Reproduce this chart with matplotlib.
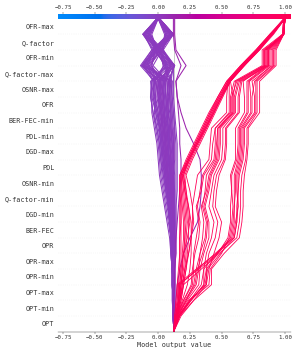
import numpy as np
import matplotlib
matplotlib.use("Agg")
import matplotlib.pyplot as plt
from matplotlib.colors import LinearSegmentedColormap, Normalize

# ---------------- data ----------------
# features from bottom (y=0.5) to top (y=19.5)
feature_names = ["OPT", "OPT-min", "OPT-max", "OPR-min", "OPR-max", "OPR",
                 "BER-FEC", "DGD-min", "Q-factor-min", "OSNR-min", "PDL",
                 "DGD-max", "PDL-min", "BER-FEC-min", "OFR", "OSNR-max",
                 "Q-factor-max", "OFR-min", "Q-factor", "OFR-max"]
base_value = 0.122
x_limits = (-0.79, 1.045)
x_ticks = [-0.75, -0.50, -0.25, 0.00, 0.25, 0.50, 0.75, 1.00]

# cumulative model output after each feature (bottom -> top), low-output observations
paths_low = [
    [0.12,0.12,0.11,0.11,0.10,0.09,0.07,0.05,0.03,0.01,0.00,-0.01,-0.03,-0.05,-0.05,-0.04,0.10,0.01,-0.11,0.00],
    [0.12,0.12,0.12,0.12,0.11,0.10,0.09,0.08,0.07,0.06,0.05,0.04,0.03,0.02,0.01,0.02,-0.13,-0.03,0.10,0.00],
    [0.13,0.13,0.13,0.13,0.14,0.14,0.14,0.14,0.15,0.15,0.15,0.15,0.14,0.13,0.12,0.12,0.12,0.03,-0.10,-0.01],
    [0.12,0.12,0.12,0.12,0.12,0.12,0.11,0.11,0.10,0.09,0.09,0.08,0.07,0.06,0.05,0.06,-0.10,-0.01,0.12,0.01],
    [0.12,0.12,0.12,0.11,0.11,0.10,0.09,0.07,0.05,0.03,0.02,0.01,-0.01,-0.03,-0.02,-0.01,0.13,0.02,0.11,0.00],
    [0.12,0.12,0.12,0.12,0.12,0.12,0.12,0.12,0.12,0.11,0.11,0.11,0.10,0.09,0.08,0.09,-0.12,-0.04,-0.12,-0.01],
    [0.12,0.12,0.12,0.12,0.12,0.11,0.10,0.10,0.09,0.08,0.06,0.05,0.04,0.03,0.02,0.03,0.08,0.00,-0.09,0.00],
    [0.13,0.13,0.13,0.13,0.13,0.13,0.13,0.13,0.13,0.12,0.12,0.11,0.10,0.08,0.07,0.07,-0.08,0.02,0.08,0.00],
    [0.12,0.11,0.11,0.11,0.10,0.10,0.09,0.08,0.06,0.05,0.04,0.02,0.00,-0.02,-0.04,-0.03,-0.14,-0.05,-0.11,-0.01],
    [0.12,0.12,0.12,0.12,0.12,0.12,0.12,0.12,0.11,0.11,0.10,0.10,0.09,0.08,0.07,0.08,0.13,0.04,0.12,0.01],
    [0.12,0.12,0.12,0.12,0.12,0.11,0.11,0.10,0.09,0.07,0.06,0.06,0.05,0.04,0.03,0.04,-0.06,0.01,0.06,0.00],
    [0.12,0.12,0.12,0.12,0.13,0.13,0.13,0.12,0.12,0.12,0.12,0.12,0.12,0.11,0.10,0.11,0.05,-0.02,-0.06,0.00],
    [0.12,0.12,0.11,0.11,0.11,0.10,0.10,0.09,0.08,0.06,0.04,0.03,0.02,0.01,-0.01,0.00,0.11,0.03,0.09,0.01],
    [0.12,0.12,0.12,0.12,0.12,0.12,0.11,0.10,0.08,0.07,0.07,0.06,0.05,0.05,0.04,0.05,-0.12,-0.02,-0.08,-0.01],
    [0.13,0.13,0.13,0.13,0.13,0.13,0.12,0.12,0.11,0.10,0.08,0.07,0.05,0.04,0.03,0.01,0.09,-0.01,0.12,0.01],
    [0.12,0.12,0.12,0.12,0.12,0.12,0.12,0.11,0.11,0.10,0.10,0.09,0.09,0.08,0.08,0.07,-0.04,0.03,-0.12,0.00],
    [0.12,0.12,0.12,0.11,0.11,0.10,0.09,0.08,0.07,0.05,0.03,0.02,0.01,0.00,-0.02,-0.03,0.06,-0.03,0.07,0.00],
    [0.12,0.12,0.12,0.12,0.12,0.12,0.12,0.12,0.12,0.12,0.13,0.13,0.13,0.12,0.11,0.10,-0.11,0.00,0.10,0.01],
    [0.12,0.12,0.12,0.12,0.12,0.11,0.11,0.10,0.10,0.09,0.08,0.08,0.07,0.07,0.06,0.05,0.12,0.02,-0.07,-0.01],
    [0.12,0.12,0.12,0.12,0.11,0.11,0.10,0.09,0.08,0.07,0.06,0.04,0.03,0.01,0.00,-0.02,-0.09,-0.04,0.11,0.00],
    [0.13,0.13,0.13,0.13,0.13,0.13,0.13,0.13,0.13,0.13,0.12,0.12,0.11,0.11,0.10,0.10,0.04,0.01,-0.12,-0.01],
    [0.12,0.12,0.12,0.12,0.12,0.12,0.11,0.11,0.10,0.10,0.09,0.07,0.06,0.05,0.04,0.04,0.10,0.04,0.05,0.00],
    [0.12,0.12,0.12,0.11,0.11,0.11,0.10,0.09,0.08,0.07,0.05,0.04,0.02,0.00,-0.03,-0.02,-0.05,-0.02,-0.10,0.00],
    [0.12,0.12,0.12,0.12,0.12,0.12,0.12,0.12,0.11,0.10,0.10,0.09,0.08,0.07,0.06,0.06,0.07,-0.04,0.09,0.01],
    [0.12,0.12,0.12,0.12,0.12,0.11,0.10,0.09,0.09,0.08,0.07,0.06,0.05,0.03,0.01,0.00,-0.13,-0.01,-0.05,0.00],
    [0.12,0.12,0.12,0.12,0.12,0.12,0.12,0.12,0.12,0.12,0.11,0.10,0.10,0.10,0.09,0.09,0.12,0.00,0.12,0.00],
    [0.12,0.12,0.11,0.11,0.10,0.10,0.09,0.08,0.06,0.04,0.02,0.01,-0.01,-0.04,-0.06,-0.05,0.05,0.02,-0.09,-0.01],
    [0.12,0.12,0.12,0.12,0.12,0.12,0.11,0.11,0.10,0.09,0.08,0.08,0.07,0.05,0.04,0.03,-0.07,0.03,0.10,0.01],
    [0.12,0.12,0.12,0.11,0.11,0.10,0.08,0.06,0.04,0.02,0.01,0.00,-0.02,-0.04,-0.06,-0.05,0.08,-0.03,-0.12,-0.01],
    [0.12,0.12,0.12,0.12,0.12,0.11,0.10,0.09,0.07,0.05,0.04,0.03,0.02,-0.01,-0.04,-0.03,-0.11,-0.04,0.09,0.00],
    [0.13,0.13,0.13,0.13,0.13,0.14,0.14,0.14,0.14,0.14,0.14,0.14,0.13,0.12,0.11,0.11,-0.09,0.01,-0.11,0.00],
    [0.12,0.12,0.12,0.12,0.12,0.12,0.12,0.11,0.10,0.09,0.08,0.06,0.04,0.02,0.00,0.01,0.10,-0.02,0.11,0.01],
    [0.12,0.12,0.11,0.11,0.11,0.10,0.09,0.08,0.07,0.06,0.05,0.03,0.01,-0.01,-0.03,-0.04,-0.12,0.00,-0.06,-0.01],
    [0.12,0.12,0.12,0.12,0.12,0.12,0.12,0.12,0.12,0.11,0.10,0.09,0.08,0.07,0.07,0.08,0.13,0.02,-0.11,0.00],
    [0.12,0.12,0.12,0.12,0.12,0.12,0.11,0.10,0.09,0.08,0.07,0.07,0.06,0.05,0.04,0.02,-0.05,-0.03,0.12,0.01],
    [0.13,0.13,0.13,0.13,0.13,0.13,0.13,0.12,0.12,0.11,0.10,0.09,0.08,0.07,0.06,0.05,0.11,0.04,-0.08,0.00],
    [0.12,0.12,0.12,0.12,0.11,0.11,0.10,0.09,0.08,0.06,0.05,0.04,0.03,0.03,0.02,0.02,-0.13,-0.05,0.08,0.00],
    [0.12,0.12,0.12,0.12,0.12,0.12,0.12,0.12,0.12,0.12,0.12,0.12,0.11,0.10,0.09,0.08,0.06,0.03,0.10,0.01],
    [0.12,0.12,0.12,0.12,0.12,0.11,0.10,0.08,0.06,0.04,0.03,0.02,0.01,-0.02,-0.05,-0.06,0.07,0.01,-0.10,-0.01],
    [0.12,0.12,0.12,0.12,0.12,0.12,0.11,0.11,0.11,0.10,0.09,0.08,0.06,0.04,0.02,0.00,-0.10,-0.01,-0.12,0.00],
    [0.12,0.12,0.12,0.12,0.12,0.12,0.12,0.12,0.11,0.11,0.11,0.11,0.10,0.10,0.09,0.10,0.12,-0.01,0.07,0.00],
    [0.13,0.13,0.13,0.13,0.13,0.13,0.12,0.11,0.10,0.08,0.06,0.05,0.04,0.02,0.00,-0.01,0.04,0.02,0.12,0.01],
    [0.12,0.12,0.12,0.12,0.12,0.12,0.11,0.10,0.09,0.09,0.08,0.08,0.08,0.06,0.05,0.04,-0.08,-0.03,-0.07,-0.01],
    [0.12,0.12,0.12,0.11,0.11,0.10,0.10,0.09,0.08,0.08,0.07,0.05,0.04,0.02,0.01,0.01,0.13,0.03,0.06,0.00],
    [0.13,0.14,0.15,0.17,0.20,0.25,0.31,0.33,0.34,0.34,0.33,0.28,0.22,0.18,0.15,0.14,0.22,0.14,0.13,0.13],
    [0.12,0.12,0.13,0.13,0.14,0.14,0.15,0.16,0.17,0.18,0.18,0.17,0.17,0.16,0.15,0.14,0.18,0.13,0.12,0.12],
]

# high-output observations: steady climb group
paths_high_climb = [
    [0.14,0.16,0.17,0.18,0.18,0.18,0.18,0.18,0.17,0.17,0.23,0.29,0.35,0.41,0.48,0.55,0.66,0.78,0.89,1.00],
    [0.15,0.17,0.18,0.19,0.19,0.20,0.20,0.19,0.18,0.18,0.24,0.30,0.36,0.42,0.49,0.56,0.67,0.79,0.90,1.00],
    [0.14,0.16,0.18,0.20,0.21,0.21,0.22,0.21,0.20,0.19,0.25,0.31,0.37,0.43,0.50,0.56,0.67,0.79,0.90,1.00],
    [0.15,0.18,0.20,0.22,0.23,0.24,0.24,0.23,0.22,0.21,0.26,0.32,0.38,0.44,0.50,0.57,0.68,0.80,0.90,1.00],
    [0.13,0.15,0.16,0.17,0.17,0.17,0.17,0.17,0.17,0.17,0.22,0.28,0.34,0.40,0.47,0.54,0.65,0.77,0.88,0.99],
    [0.14,0.17,0.19,0.21,0.24,0.26,0.27,0.27,0.25,0.22,0.27,0.33,0.39,0.45,0.51,0.57,0.68,0.80,0.91,1.00],
    [0.15,0.19,0.23,0.25,0.26,0.26,0.26,0.24,0.22,0.20,0.24,0.30,0.37,0.43,0.49,0.55,0.66,0.78,0.89,1.00],
    [0.14,0.16,0.17,0.18,0.20,0.23,0.25,0.24,0.21,0.19,0.24,0.31,0.37,0.44,0.50,0.56,0.67,0.78,0.89,1.00],
    [0.14,0.16,0.18,0.19,0.20,0.21,0.21,0.20,0.19,0.18,0.24,0.30,0.36,0.42,0.48,0.55,0.66,0.79,0.90,1.00],
    [0.15,0.17,0.19,0.21,0.22,0.22,0.23,0.22,0.21,0.20,0.25,0.31,0.38,0.44,0.50,0.57,0.68,0.79,0.90,1.00],
    [0.13,0.14,0.15,0.16,0.17,0.17,0.18,0.18,0.18,0.18,0.23,0.29,0.35,0.41,0.47,0.54,0.65,0.77,0.88,1.00],
    [0.15,0.20,0.26,0.27,0.29,0.32,0.33,0.31,0.33,0.35,0.42,0.43,0.45,0.56,0.56,0.56,0.66,0.78,0.89,1.00],
    [0.16,0.22,0.28,0.30,0.33,0.37,0.38,0.35,0.37,0.38,0.45,0.46,0.47,0.59,0.59,0.57,0.67,0.79,0.90,1.00],
    [0.14,0.17,0.20,0.22,0.24,0.26,0.28,0.27,0.29,0.31,0.40,0.41,0.42,0.54,0.54,0.55,0.66,0.78,0.89,0.99],
]

# high-output observations: OFR-max neutral group
paths_high_step = [
    [0.14,0.15,0.15,0.30,0.46,0.60,0.62,0.62,0.63,0.63,0.66,0.67,0.67,0.76,0.76,0.74,0.90,0.90,0.99,1.00],
    [0.15,0.18,0.20,0.34,0.48,0.62,0.64,0.65,0.65,0.66,0.69,0.70,0.70,0.78,0.78,0.78,0.92,0.92,0.99,1.00],
    [0.14,0.16,0.16,0.32,0.47,0.58,0.60,0.60,0.61,0.61,0.64,0.65,0.65,0.73,0.73,0.72,0.88,0.88,0.99,1.00],
    [0.17,0.25,0.40,0.41,0.50,0.56,0.58,0.59,0.58,0.58,0.62,0.63,0.63,0.70,0.70,0.70,0.86,0.86,0.99,1.00],
    [0.16,0.24,0.38,0.38,0.47,0.55,0.57,0.57,0.58,0.57,0.61,0.61,0.61,0.68,0.68,0.67,0.85,0.85,0.98,0.99],
    [0.18,0.28,0.42,0.42,0.52,0.64,0.66,0.67,0.67,0.68,0.70,0.71,0.71,0.80,0.80,0.80,0.93,0.93,0.99,1.00],
    [0.15,0.17,0.17,0.31,0.45,0.59,0.61,0.63,0.62,0.62,0.65,0.66,0.66,0.74,0.74,0.76,0.89,0.89,0.99,1.00],
    [0.17,0.26,0.36,0.36,0.46,0.57,0.59,0.60,0.60,0.60,0.63,0.64,0.64,0.71,0.71,0.71,0.87,0.87,0.98,0.99],
    [0.16,0.25,0.37,0.39,0.49,0.60,0.62,0.63,0.63,0.64,0.67,0.68,0.68,0.77,0.77,0.77,0.91,0.91,0.99,1.00],
    [0.15,0.22,0.30,0.32,0.33,0.35,0.36,0.34,0.38,0.40,0.46,0.47,0.47,0.58,0.58,0.62,0.83,0.83,0.99,1.00],
    [0.16,0.25,0.34,0.36,0.38,0.42,0.44,0.40,0.42,0.44,0.50,0.51,0.51,0.61,0.61,0.64,0.85,0.85,0.99,1.00],
    [0.14,0.20,0.27,0.28,0.28,0.30,0.32,0.30,0.34,0.36,0.44,0.45,0.45,0.57,0.57,0.60,0.82,0.82,0.98,0.99],
    [0.17,0.28,0.38,0.40,0.44,0.48,0.50,0.45,0.46,0.48,0.53,0.54,0.54,0.64,0.64,0.66,0.87,0.87,0.99,1.00],
    [0.15,0.23,0.32,0.33,0.36,0.40,0.40,0.37,0.40,0.42,0.48,0.49,0.49,0.60,0.60,0.63,0.84,0.84,0.99,1.00],
    [0.16,0.26,0.36,0.38,0.40,0.45,0.47,0.43,0.44,0.46,0.52,0.53,0.53,0.63,0.63,0.65,0.86,0.86,0.99,1.00],
    [0.15,0.21,0.29,0.31,0.35,0.38,0.39,0.36,0.39,0.41,0.47,0.48,0.48,0.59,0.59,0.61,0.84,0.84,0.99,1.00],
]

# ---------------- colormap (perceptual blue -> red through purple, Lch space) ----------------
def lch_to_rgb(l, c, h):
    a = c * np.cos(h)
    b = c * np.sin(h)
    fy = (l + 16.0) / 116.0
    fx = a / 500.0 + fy
    fz = fy - b / 200.0
    f = np.array([fx, fy, fz])
    xyz = np.where(f > 0.2068966, f ** 3, (f - 16.0 / 116.0) / 7.787)
    xyz = np.clip(xyz, 0, None) * np.array([0.95047, 1.0, 1.08883])
    M = np.array([[3.24048134, -1.53715152, -0.49853633],
                  [-0.96925495, 1.87599, 0.04155593],
                  [0.05564664, -0.20404134, 1.05731107]])
    rgb = M @ xyz
    rgb = np.where(rgb > 0.0031308, 1.055 * np.power(np.clip(rgb, 0, None), 1 / 2.4) - 0.055, 12.92 * rgb)
    return np.clip(rgb, 0, 1)

nsteps = 100
l_vals = list(np.linspace(54.0, 40.0, nsteps // 2)) + list(np.linspace(40.0, 54.0, nsteps // 2))
c_vals = np.linspace(70.0, 90.0, nsteps)
h_vals = np.linspace(4.6588, 0.35470565 + 2 * np.pi, nsteps)
cm_colors = [lch_to_rgb(l, c, h) for l, c, h in zip(l_vals, c_vals, h_vals)]
red_blue = LinearSegmentedColormap.from_list("red_blue", list(zip(np.linspace(0, 1, nsteps), cm_colors)))

# ---------------- plot ----------------
plt.rcParams["font.family"] = ["DejaVu Sans Mono", "DejaVu Sans"]
fig = plt.figure(figsize=(8, 9.5), dpi=37.375)
ax = fig.add_axes([58 / 299, 1 - 331.7 / 355, (290.7 - 58) / 299, (331.7 - 14) / 355])

n_feat = len(feature_names)
top = n_feat + 0.3
axis_color = "#333333"

ax.axvline(base_value, color="#999999", lw=1, zorder=-1)
for i in range(1, n_feat):
    ax.axhline(y=i, color="#bbbbbb", lw=0.6, dashes=(1, 5), zorder=-1)

norm = Normalize(vmin=x_limits[0], vmax=x_limits[1])
y_pos = np.arange(0, n_feat + 1)
for p in paths_low:
    vals = np.array([base_value] + p)
    ax.plot(vals, y_pos, color=red_blue(norm(vals[-1])), lw=2.0, solid_joinstyle="miter")
for p in paths_high_climb + paths_high_step:
    vals = np.array([base_value] + p)
    ax.plot(vals, y_pos, color=red_blue(norm(vals[-1])), lw=1.6, solid_joinstyle="miter")

ax.set_xlim(x_limits)
ax.set_ylim(0, top)
ax.set_xticks(x_ticks)
ax.set_xticklabels([f"{t:.2f}".replace("-", "\u2212") for t in x_ticks])
ax.set_yticks(np.arange(n_feat) + 0.5)
ax.set_yticklabels(feature_names, fontsize=13)
ax.tick_params(axis="y", left=False, colors=axis_color, labelcolor=axis_color)
ax.tick_params(axis="x", top=True, bottom=True, labeltop=True, labelbottom=True,
               labelsize=11, color=axis_color, labelcolor=axis_color)
for s in ["left", "right", "top"]:
    ax.spines[s].set_visible(False)
ax.spines["bottom"].set_color(axis_color)
ax.set_xlabel("Model output value", fontsize=13, color=axis_color)

cax = ax.inset_axes([x_limits[0], n_feat, x_limits[1] - x_limits[0], top - n_feat], transform=ax.transData)
cax.imshow(np.linspace(0, 1, 256)[None, :], aspect="auto", cmap=red_blue,
           extent=[0, 1, 0, 1])
cax.set_axis_off()

fig.savefig("out.png", dpi=37.375)
